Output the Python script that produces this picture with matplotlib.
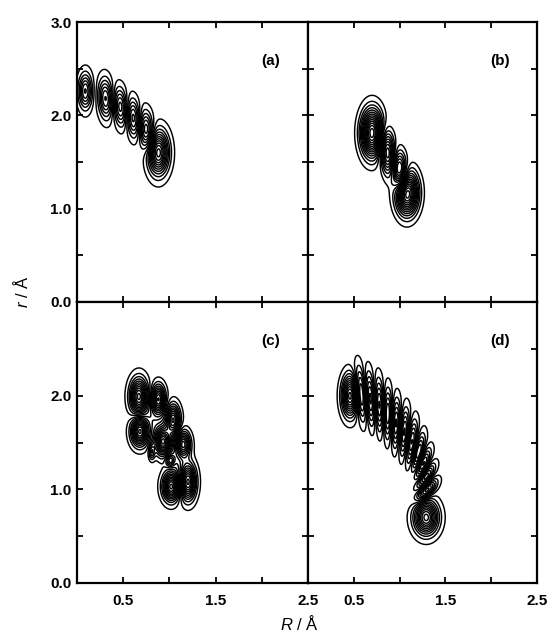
import numpy as np
import matplotlib
matplotlib.use("Agg")
import matplotlib.pyplot as plt

plt.rcParams['font.family'] = ['Liberation Sans', 'DejaVu Sans']
plt.rcParams['mathtext.fontset'] = 'custom'
plt.rcParams['mathtext.it'] = 'Liberation Sans:italic'
plt.rcParams['mathtext.rm'] = 'Liberation Sans'

# ---- data: lobes of each wave-function (R centre, r centre, widths, signed amplitude, tilt) ----
a_R   = [0.09, 0.31, 0.47, 0.61, 0.75, 0.88]
a_r   = [2.26, 2.18, 2.09, 1.97, 1.84, 1.60]
a_sR  = [0.048, 0.052, 0.050, 0.050, 0.052, 0.072]
a_sr  = [0.125, 0.140, 0.135, 0.135, 0.135, 0.150]
a_amp = [0.60, -0.60, 0.55, -0.55, 0.60, -1.00]
a_ang = [0, -0.05, -0.08, -0.08, -0.08, 0]

b_R   = [0.70, 0.87, 1.00, 1.08]
b_r   = [1.81, 1.60, 1.40, 1.17]
b_sR  = [0.078, 0.055, 0.058, 0.078]
b_sr  = [0.165, 0.160, 0.140, 0.150]
b_amp = [1.00, -0.65, 0.65, -1.00]
b_ang = [0, -0.10, -0.10, 0]

c_R   = [0.67, 0.88, 1.04, 1.15, 0.68, 0.93, 0.81, 1.01, 1.02, 1.20]
c_r   = [1.99, 1.96, 1.74, 1.48, 1.62, 1.51, 1.40, 1.31, 1.03, 1.08]
c_sR  = [0.062, 0.048, 0.048, 0.050, 0.060, 0.056, 0.022, 0.032, 0.060, 0.056]
c_sr  = [0.125, 0.100, 0.105, 0.090, 0.100, 0.095, 0.055, 0.045, 0.100, 0.125]
c_amp = [0.90, -0.80, 0.80, -0.75, -0.90, 0.90, 0.35, -0.40, 0.90, -0.90]
c_ang = [0, 0, 0, 0, 0, 0, 0, 0, 0, 0]

d_R   = [0.46, 0.58, 0.68, 0.78, 0.87, 0.96, 1.05, 1.13, 1.20, 1.25, 1.28, 1.29, 1.29]
d_r   = [2.00, 2.02, 1.96, 1.89, 1.80, 1.70, 1.60, 1.49, 1.38, 1.26, 1.13, 0.99, 0.70]
d_sR  = [0.058, 0.042, 0.042, 0.042, 0.042, 0.042, 0.042, 0.042, 0.042, 0.042, 0.042, 0.045, 0.085]
d_sr  = [0.140, 0.185, 0.185, 0.185, 0.180, 0.175, 0.170, 0.160, 0.140, 0.120, 0.105, 0.095, 0.118]
d_amp = [1.00, -0.65, 0.62, -0.62, 0.62, -0.62, 0.62, -0.62, 0.62, -0.64, 0.66, -0.72, 1.00]
d_ang = [0.0, -0.10, -0.08, -0.05, -0.02, 0.0, 0.05, 0.10, 0.20, 0.35, 0.55, 0.75, 0.0]

panels = [
    ("(a)", a_R, a_r, a_sR, a_sr, a_amp, a_ang),
    ("(b)", b_R, b_r, b_sR, b_sr, b_amp, b_ang),
    ("(c)", c_R, c_r, c_sR, c_sr, c_amp, c_ang),
    ("(d)", d_R, d_r, d_sR, d_sr, d_amp, d_ang),
]
n_levels = [11, 14, 11, 11]

x_ticks = [0.0, 0.5, 1.0, 1.5, 2.0, 2.5]
x_ticklabels = ["", "0.5", "", "1.5", "", "2.5"]
y_ticks = [0.0, 0.5, 1.0, 1.5, 2.0, 2.5, 3.0]
y_ticklabels_top = ["0.0", "", "1.0", "", "2.0", "", "3.0"]
y_ticklabels_bot = ["0.0", "", "1.0", "", "2.0", "", ""]

W, H = 551, 634
fig = plt.figure(figsize=(W / 100, H / 100), dpi=100)

def ax_at(x0, y0, x1, y1):
    return fig.add_axes([x0 / W, 1 - y1 / H, (x1 - x0) / W, (y1 - y0) / H])

axes = [ax_at(77, 22, 308, 302), ax_at(308, 22, 537, 302),
        ax_at(77, 302, 308, 583), ax_at(308, 302, 537, 583)]

Rg = np.linspace(0, 2.5, 600)
rg = np.linspace(0, 3.0, 720)
RR, rr = np.meshgrid(Rg, rg)

for i, (ax, (lab, pR, pr, psR, psr, pamp, pang)) in enumerate(zip(axes, panels)):
    psi = np.zeros_like(RR)
    for R0, r0, sR, sr, A, th in zip(pR, pr, psR, psr, pamp, pang):
        dx = RR - R0
        dy = rr - r0
        u = dx * np.cos(th) - dy * np.sin(th)
        v = dx * np.sin(th) + dy * np.cos(th)
        psi += A * np.exp(-0.5 * ((u / sR) ** 2 + (v / sr) ** 2))
    m = np.abs(psi).max()
    lv = np.linspace(0.05, 0.96, n_levels[i]) * m
    levels = np.concatenate([-lv[::-1], lv])
    ax.contour(RR, rr, psi, levels=levels, colors='black', linewidths=1.05,
               linestyles='solid')
    ax.set_xlim(0, 2.5)
    ax.set_ylim(0, 3.0)
    ax.set_xticks(x_ticks)
    ax.set_yticks(y_ticks)
    if i >= 2:
        ax.set_xticklabels(x_ticklabels)
    else:
        ax.set_xticklabels([])
    if i == 0:
        ax.set_yticklabels(y_ticklabels_top)
    elif i == 2:
        ax.set_yticklabels(y_ticklabels_bot)
    else:
        ax.set_yticklabels([])
    ax.tick_params(direction='in', top=True, right=True, length=4, width=1.3,
                   labelsize=11)
    ax.tick_params(axis='x', pad=8)
    ax.tick_params(axis='y', pad=4)
    for t in ax.get_xticklabels() + ax.get_yticklabels():
        t.set_fontweight('bold')
    for s in ax.spines.values():
        s.set_linewidth(1.6)
    ax.text(0.84, 0.86, lab, transform=ax.transAxes, ha='center', va='center',
            fontsize=11, fontweight='bold')

fig.text(299 / W, 1 - 623 / H, r'$\it{R}$ / Å', ha='center', va='center', fontsize=12)
fig.text(22 / W, 1 - 292 / H, r'$\it{r}$ / Å', ha='center', va='center', fontsize=12,
         rotation=90)

fig.savefig("out.png", dpi=100)
